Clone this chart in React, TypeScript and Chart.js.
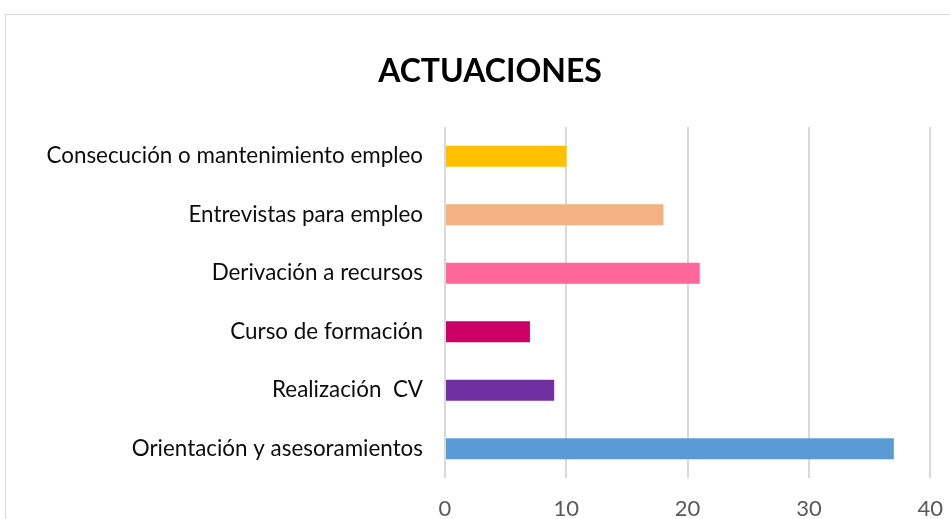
import React, { useEffect, useRef } from "react";
import { Chart, registerables } from "chart.js";

Chart.register(...registerables);

const categories = [
  "Consecución o mantenimiento empleo",
  "Entrevistas para empleo",
  "Derivación a recursos",
  "Curso de formación",
  "Realización  CV",
  "Orientación y asesoramientos",
];
const values = [10, 18, 21, 7, 9, 37];
const barColors = ["#FFC000", "#F4B183", "#FF6699", "#CC0066", "#7030A0", "#5B9BD5"];
const xTicks = [0, 10, 20, 30, 40];
const title = "ACTUACIONES";

export default function App() {
  const ref = useRef<HTMLCanvasElement | null>(null);
  useEffect(() => {
    if (!ref.current) return;
    const chart = new Chart(ref.current, {
      type: "bar",
      data: {
        labels: categories,
        datasets: [
          {
            data: values,
            backgroundColor: barColors,
            borderWidth: 0,
            barPercentage: 0.36,
            categoryPercentage: 1,
          },
        ],
      },
      options: {
        indexAxis: "y",
        responsive: false,
        animation: false,
        layout: { padding: { left: 19, right: 0, top: 0, bottom: 0 } },
        plugins: {
          legend: { display: false },
          tooltip: { enabled: false },
          title: {
            display: true,
            text: title,
            color: "#000000",
            font: { family: "Lato", size: 32, weight: "bold", lineHeight: 1.2 },
            padding: { top: 52, bottom: 36.6 },
          },
        },
        scales: {
          x: {
            min: xTicks[0],
            max: xTicks[xTicks.length - 1],
            afterBuildTicks: (scale: any) => {
              scale.ticks = xTicks.map((v) => ({ value: v }));
            },
            afterFit: (scale: any) => {
              scale.height = 62;
            },
            grid: { color: "#d9d9d9", lineWidth: 2, drawTicks: false },
            border: { display: false },
            ticks: {
              color: "#595959",
              font: { family: "Lato", size: 22 },
              padding: 18,
            },
          },
          y: {
            afterFit: (scale: any) => {
              scale.width = 426;
            },
            grid: { display: false, drawTicks: false },
            border: { display: false },
            ticks: {
              color: "#0d0d0d",
              font: { family: "Lato", size: 22.4 },
              padding: 22,
            },
          },
        },
      },
    });
    return () => chart.destroy();
  }, []);
  return (
    <div
      style={{
        position: "absolute",
        left: 0,
        top: 0,
        width: 950,
        height: 519,
        overflow: "hidden",
        background: "#ffffff",
      }}
    >
      <div
        style={{
          position: "absolute",
          left: 5,
          top: 14,
          width: 1000,
          height: 600,
          border: "1px solid #d9d9d9",
        }}
      />
      <canvas
        ref={ref}
        width={961}
        height={540}
        style={{ position: "absolute", left: 0, top: 0, display: "block" }}
      />
    </div>
  );
}
